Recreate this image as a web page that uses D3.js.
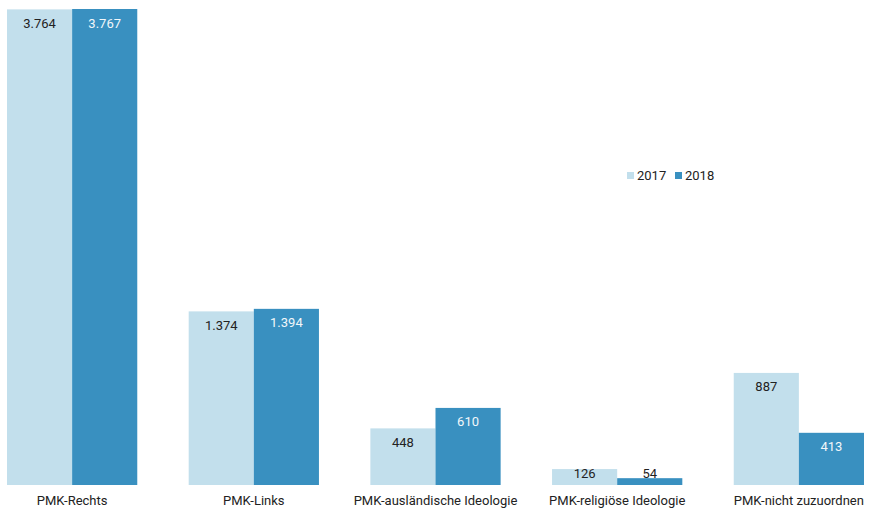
<!DOCTYPE html>
<html><head><meta charset="utf-8">
<script src="https://cdn.jsdelivr.net/npm/d3@7"></script>
<style>body{margin:0;background:#fff}svg{display:block;font-family:"Roboto","Liberation Sans",sans-serif}</style>
</head><body><svg id="c" width="874" height="512"></svg>
<script>
const categories = ["PMK-Rechts","PMK-Links","PMK-ausländische Ideologie","PMK-religiöse Ideologie","PMK-nicht zuzuordnen"];
const seriesNames = ["2017","2018"];
const values2017 = [3764,1374,448,126,887];
const values2018 = [3767,1394,610,54,413];
const labels2017 = ["3.764","1.374","448","126","887"];
const labels2018 = ["3.767","1.394","610","54","413"];
const colors = ["#c2dfec","#3990c0"];

const svg = d3.select("#c");
const baseY = 485, topY = 9;
const x0 = d3.scaleBand().domain(categories).range([7,864]).paddingInner(0.283).paddingOuter(0);
const x1 = d3.scaleBand().domain(seriesNames).range([0,x0.bandwidth()]).padding(0);
const y = d3.scaleLinear().domain([0,3767]).range([baseY,topY]);

const data = categories.map((c,i)=>({c, vals:[
  {s:"2017",v:values2017[i],l:labels2017[i]},
  {s:"2018",v:values2018[i],l:labels2018[i]}]}));

const g = svg.selectAll("g.grp").data(data).join("g").attr("class","grp").attr("transform",d=>`translate(${x0(d.c)},0)`);
g.selectAll("rect").data(d=>d.vals).join("rect")
  .attr("x",d=>x1(d.s)).attr("width",x1.bandwidth())
  .attr("y",d=>y(d.v)).attr("height",d=>baseY-y(d.v))
  .attr("fill",(d,i)=>colors[i]);
g.selectAll("text").data(d=>d.vals).join("text")
  .attr("x",d=>x1(d.s)+x1.bandwidth()/2)
  .attr("y",d=>Math.min(y(d.v)+14,473))
  .attr("dy","0.35em").attr("text-anchor","middle").attr("font-size",13)
  .attr("fill",(d,i)=> (i===1 && y(d.v)+14<=473) ? "#f2f7fa" : "#222")
  .text(d=>d.l);

svg.selectAll("text.cat").data(categories).join("text").attr("class","cat")
  .attr("x",d=>x0(d)+x0.bandwidth()/2).attr("y",500).attr("dy","0.35em")
  .attr("text-anchor","middle").attr("font-size",13).attr("fill","#222").text(d=>d);

const legX = [627,675];
seriesNames.forEach((s,i)=>{
  svg.append("rect").attr("x",legX[i]).attr("y",172).attr("width",7).attr("height",7).attr("fill",colors[i]);
  svg.append("text").attr("x",legX[i]+10).attr("y",175).attr("dy","0.35em").attr("font-size",13).attr("fill","#222").text(s);
});
</script></body></html>
